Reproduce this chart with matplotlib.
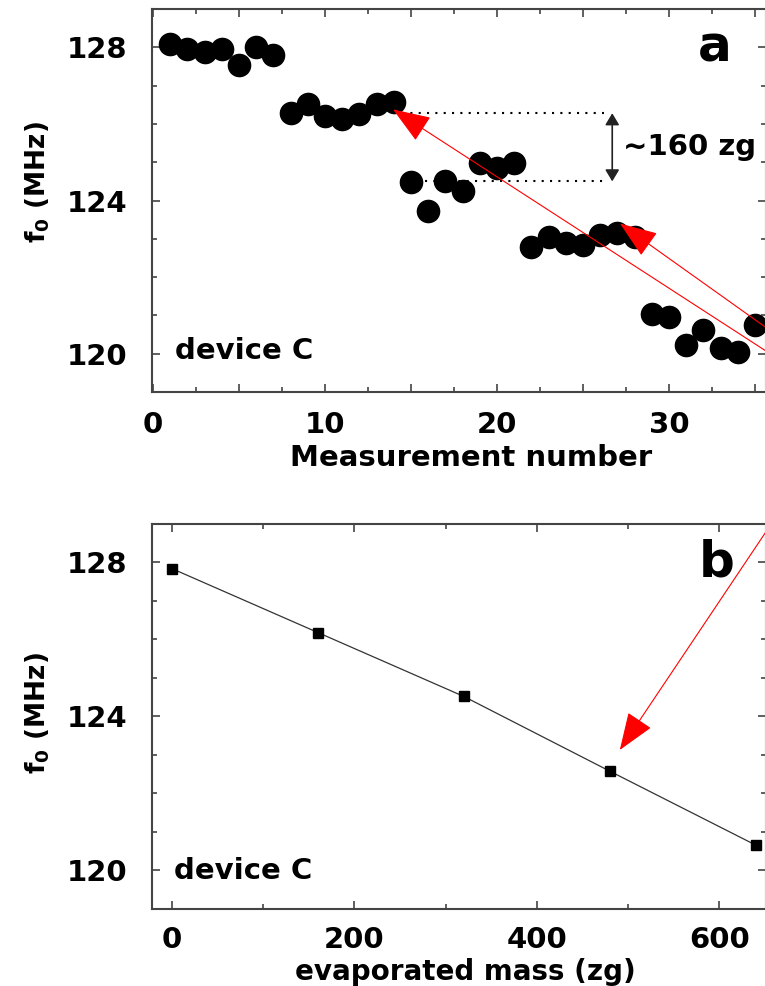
import numpy as np
import matplotlib.pyplot as plt
from matplotlib.ticker import MultipleLocator, FuncFormatter

# panel a: resonance frequency for each measurement
meas_num = np.arange(1, 36)
f0_meas = [128.10, 127.97, 127.87, 127.97, 127.53, 128.00, 127.80,
           126.28, 126.51, 126.22, 126.12, 126.27, 126.51, 126.57,
           124.48, 123.74, 124.50, 124.25, 124.97, 124.84, 124.97,
           122.78, 123.04, 122.88, 122.83, 123.09, 123.14, 123.04,
           121.05, 120.95, 120.22, 120.61, 120.14, 120.04, 120.74]

# panel b: frequency plateaus against evaporated mass
mass_zg = [0, 160, 320, 480, 640]
f0_mass = [127.84, 126.18, 124.52, 122.58, 120.66]

# levels of the two plateaus marked in panel a
step_hi = 126.28
step_lo = 124.50

plt.rcParams['font.weight'] = 'bold'
plt.rcParams['font.size'] = 21

fig = plt.figure(figsize=(7.65, 9.86), dpi=100)
ax1 = fig.add_axes([0.1987, 0.6024, 0.8026, 0.3884])
ax2 = fig.add_axes([0.1987, 0.0781, 0.8026, 0.3905])

spine_col = '#444444'


def style_axes(ax):
    for s in ax.spines.values():
        s.set_color(spine_col)
        s.set_linewidth(1.5)
    ax.tick_params(which='both', direction='in', top=True, right=True,
                   color=spine_col, width=1.2, labelsize=21, pad=18)
    ax.tick_params(which='major', length=5.5)
    ax.tick_params(which='minor', length=3.5)
    ax.set_ylim(119, 129)
    ax.yaxis.set_major_locator(MultipleLocator(4))
    ax.yaxis.set_minor_locator(MultipleLocator(1))
    ax.set_ylabel(r'f$_\mathregular{0}$ (MHz)', fontsize=19, fontweight='bold')


# ---- panel a ----
style_axes(ax1)
ax1.plot(meas_num, f0_meas, 'o', color='black', markersize=16, zorder=3)
ax1.set_xlim(-0.06, 35.64)
ax1.xaxis.set_major_locator(MultipleLocator(5))
ax1.xaxis.set_minor_locator(MultipleLocator(2.5))
ax1.xaxis.set_major_formatter(FuncFormatter(lambda v, p: '%d' % v if v % 10 == 0 else ''))
ax1.tick_params(axis='x', which='both', pad=14)
ax1.set_xlabel('Measurement number', fontsize=21, fontweight='bold')
ax1.xaxis.set_label_coords(0.52, -0.135)
ax1.yaxis.set_label_coords(-0.163, 0.548)

# dotted plateau markers and the double arrow between them
ax1.plot([14.5, 26.2], [step_hi, step_hi], color='black', lw=1.5,
         linestyle=(0, (1, 3)), zorder=2)
ax1.plot([15.8, 26.2], [step_lo, step_lo], color='black', lw=1.5,
         linestyle=(0, (1, 3)), zorder=2)
ax1.annotate('', xy=(26.7, step_hi), xytext=(26.7, step_lo),
             arrowprops=dict(arrowstyle='<|-|>,head_length=0.5,head_width=0.3',
                             color='#222222', lw=1.2, mutation_scale=14,
                             shrinkA=0, shrinkB=0))
ax1.text(27.3, 125.39, '~160 zg', fontsize=21, fontweight='bold',
         ha='left', va='center')
ax1.text(0.917, 0.90, 'a', transform=ax1.transAxes, fontsize=36,
         fontweight='bold', ha='center', va='center')
ax1.text(0.037, 0.107, 'device C', transform=ax1.transAxes, fontsize=21,
         fontweight='bold', ha='left', va='center')

# ---- panel b ----
style_axes(ax2)
ax2.plot(mass_zg, f0_mass, '-', color='#333333', lw=0.9, zorder=2)
ax2.plot(mass_zg, f0_mass, 's', color='black', markersize=6.5, zorder=3)
ax2.set_xlim(-21.9, 651.3)
ax2.xaxis.set_major_locator(MultipleLocator(200))
ax2.xaxis.set_minor_locator(MultipleLocator(100))
ax2.tick_params(axis='x', which='both', pad=12)
ax2.set_xlabel('evaporated mass (zg)', fontsize=20, fontweight='bold')
ax2.xaxis.set_label_coords(0.51, -0.128)
ax2.yaxis.set_label_coords(-0.163, 0.509)
ax2.text(0.92, 0.901, 'b', transform=ax2.transAxes, fontsize=36,
         fontweight='bold', ha='center', va='center')
ax2.text(0.036, 0.099, 'device C', transform=ax2.transAxes, fontsize=21,
         fontweight='bold', ha='left', va='center')

# red pointer arrows coming in from the right edge
red_head = dict(arrowstyle='-|>,head_length=1.2,head_width=0.45',
                color='red', lw=0.8, mutation_scale=20, shrinkA=0, shrinkB=0)
ax1.annotate('', xy=(13.95, 126.38), xytext=(820, 986 - 386),
             textcoords='figure pixels', arrowprops=red_head,
             annotation_clip=False)
ax1.annotate('', xy=(27.15, 123.40), xytext=(820, 986 - 366),
             textcoords='figure pixels', arrowprops=red_head,
             annotation_clip=False)
ax2.annotate('', xy=(491, 123.13), xytext=(800, 986 - 481),
             textcoords='figure pixels', arrowprops=red_head,
             annotation_clip=False)

fig.savefig('out.png', dpi=100)
